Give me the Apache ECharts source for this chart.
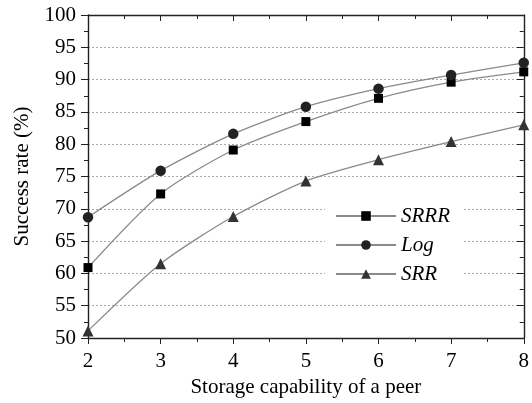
<!DOCTYPE html>
<html>
<head>
<meta charset="utf-8">
<script src="https://cdn.jsdelivr.net/npm/echarts@6/dist/echarts.min.js"></script>
<style>
  html, body { margin: 0; padding: 0; background: #fff; }
  #chart { width: 532px; height: 403px; }
</style>
</head>
<body>
<div id="chart"></div>
<script>
// storage capability (x) and success rate (%) per scheme
const capacity = [2, 3, 4, 5, 6, 7, 8];
const srrr = [60.9, 72.3, 79.1, 83.5, 87.1, 89.6, 91.2];
const logRate = [68.7, 75.9, 81.6, 85.8, 88.6, 90.7, 92.6];
const srr = [51.1, 61.5, 68.8, 74.3, 77.6, 80.4, 83.0];

const font = "Liberation Serif";
const lineCol = "#8a8a8a";
const axisCol = "#222";

const chart = echarts.init(document.getElementById("chart"));

function mkSeries(name, vals, symbol, size, color) {
  return {
    name: name,
    type: "line",
    smooth: 0.25,
    data: capacity.map((c, i) => [c, vals[i]]),
    symbol: symbol,
    symbolSize: size,
    showSymbol: true,
    lineStyle: { color: lineCol, width: 1.3 },
    itemStyle: { color: color, borderWidth: 0 },
    emphasis: { disabled: true },
    z: 3
  };
}

const option = {
  backgroundColor: "#fff",
  animation: false,
  grid: { left: 88, right: 5, top: 15, bottom: 65 },
  legend: {
    orient: "vertical",
    left: 325,
    top: 201,
    padding: [4, 12, 4, 10],
    backgroundColor: "#fff",
    itemWidth: 60,
    itemHeight: 12,
    itemGap: 7,
    textStyle: { fontFamily: font, fontStyle: "italic", fontSize: 21, lineHeight: 22, color: "#000" },
    data: ["SRRR", "Log", "SRR"],
    z: 5
  },
  xAxis: [{
    type: "value",
    min: 2, max: 8, interval: 1,
    name: "Storage capability of a peer",
    nameLocation: "middle",
    nameGap: 39,
    nameTextStyle: { fontFamily: font, fontSize: 21, color: "#000" },
    axisLine: { lineStyle: { color: axisCol, width: 1.4 } },
    axisTick: { inside: false, length: 6, lineStyle: { color: axisCol } },
    minorTick: { show: true, splitNumber: 2, length: 4, lineStyle: { color: axisCol } },
    axisLabel: { fontFamily: font, fontSize: 21, color: "#000", margin: 13 },
    splitLine: { show: false }
  }, {
    type: "value",
    position: "top",
    min: 2, max: 8, interval: 1,
    axisLine: { show: true, onZero: false, lineStyle: { color: axisCol, width: 1.4 } },
    axisTick: { inside: true, length: 6, lineStyle: { color: axisCol } },
    minorTick: { show: true, splitNumber: 2, length: 4, lineStyle: { color: axisCol } },
    axisLabel: { show: false },
    splitLine: { show: false }
  }],
  yAxis: [{
    type: "value",
    min: 50, max: 100, interval: 5,
    name: "Success rate (%)",
    nameLocation: "middle",
    nameGap: 55,
    nameTextStyle: { fontFamily: font, fontSize: 21, color: "#000" },
    axisLine: { show: true, lineStyle: { color: axisCol, width: 1.4 } },
    axisTick: { show: true, inside: false, length: 7, lineStyle: { color: axisCol } },
    minorTick: { show: true, splitNumber: 2, length: 4, lineStyle: { color: axisCol } },
    axisLabel: { fontFamily: font, fontSize: 21, color: "#000", margin: 12 },
    splitLine: { show: true, lineStyle: { color: "#aaa", type: [2, 2], width: 1 } }
  }, {
    type: "value",
    position: "right",
    min: 50, max: 100, interval: 5,
    axisLine: { show: true, onZero: false, lineStyle: { color: axisCol, width: 1.4 } },
    axisTick: { show: true, inside: true, length: 7, lineStyle: { color: axisCol } },
    minorTick: { show: true, splitNumber: 2, length: 4, lineStyle: { color: axisCol } },
    axisLabel: { show: false },
    splitLine: { show: false }
  }],
  series: [
    mkSeries("SRRR", srrr, "rect", 9, "#000"),
    mkSeries("Log", logRate, "circle", 10.5, "#222"),
    mkSeries("SRR", srr, "triangle", 11, "#333")
  ]
};

chart.setOption(option);
</script>
</body>
</html>
